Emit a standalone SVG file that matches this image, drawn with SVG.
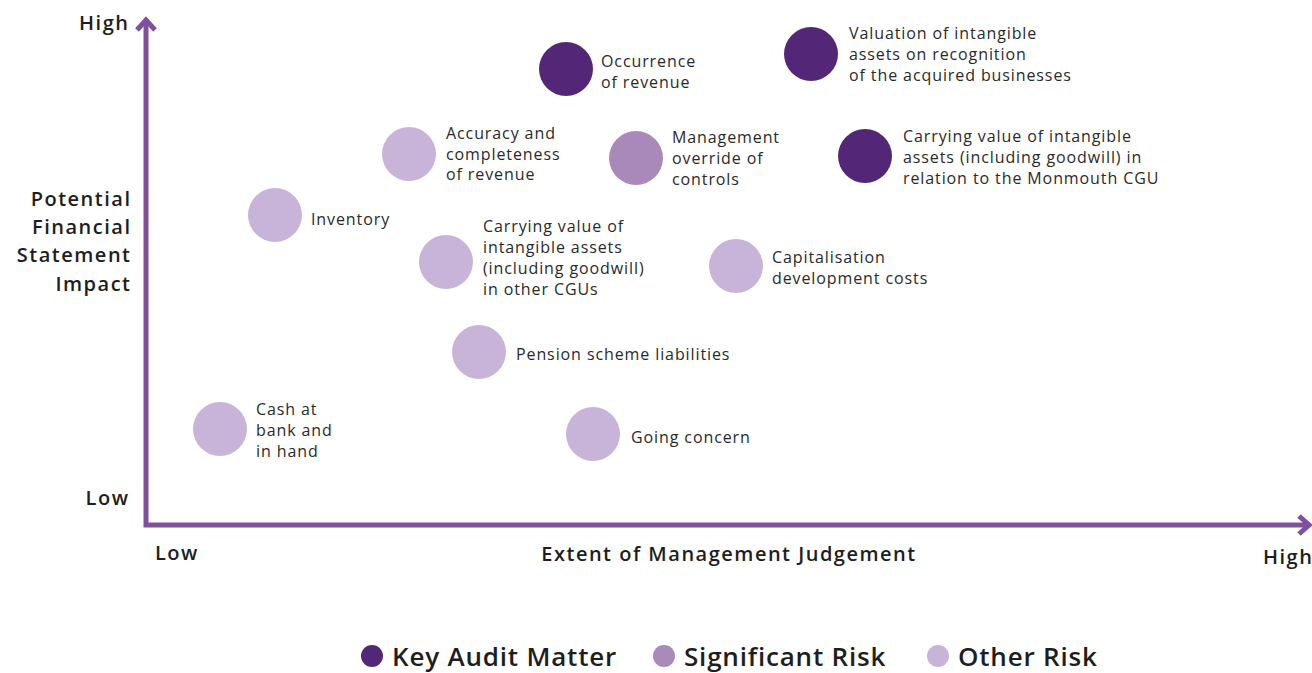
<svg xmlns="http://www.w3.org/2000/svg" width="1312" height="673" viewBox="0 0 1312 673">
<style>
.lbl{font-family:"Open Sans","Liberation Sans",sans-serif;font-size:16px;letter-spacing:0.9px;fill:#2a2a2a}
.ax{font-family:"Open Sans","Liberation Sans",sans-serif;font-size:20px;font-weight:600;letter-spacing:1.5px;fill:#1e1e1e}
.leg{font-family:"Open Sans","Liberation Sans",sans-serif;font-size:26px;font-weight:600;letter-spacing:0.8px;fill:#1e1e1e}
.kam{fill:#532677}
.sig{fill:#a889ba}
.oth{fill:#c7b4d8}
.axis{stroke:#80509d;stroke-width:5;fill:none}
</style>
<rect width="1312" height="673" fill="#ffffff"/>
<g id="axes">
<path class="axis" d="M146,22 V525 H1306"/>
<path class="axis" d="M137,30 L146,20 L155,30"/>
<path class="axis" d="M1299,516 L1309,525 L1299,534"/>
</g>
<g id="axis-labels">
<text class="ax" x="129.5" y="30" text-anchor="end">High</text>
<text class="ax" x="129.5" y="505" text-anchor="end">Low</text>
<text class="ax" text-anchor="end"><tspan x="131.5" y="206">Potential</tspan><tspan x="131.5" y="234">Financial</tspan><tspan x="131.5" y="262">Statement</tspan><tspan x="131.5" y="291">Impact</tspan></text>
<text class="ax" x="155" y="560">Low</text>
<text class="ax" x="729" y="561" text-anchor="middle">Extent of Management Judgement</text>
<text class="ax" x="1263" y="564">High</text>
</g>
<g id="n-occurrence"><circle class="kam" cx="566" cy="69" r="27"/><text class="lbl"><tspan x="601" y="67">Occurrence</tspan><tspan x="601" y="88">of revenue</tspan></text></g>
<g id="n-valuation"><circle class="kam" cx="811" cy="54" r="27"/><text class="lbl"><tspan x="849" y="39">Valuation of intangible</tspan><tspan x="849" y="60">assets on recognition</tspan><tspan x="849" y="81">of the acquired businesses</tspan></text></g>
<g id="n-accuracy"><circle class="oth" cx="409" cy="154" r="27"/><text class="lbl"><tspan x="446" y="139">Accuracy and</tspan><tspan x="446" y="160">completeness</tspan><tspan x="446" y="180">of revenue</tspan></text></g>
<g id="n-management"><circle class="sig" cx="636" cy="158" r="27"/><text class="lbl"><tspan x="672" y="143">Management</tspan><tspan x="672" y="164">override of</tspan><tspan x="672" y="185">controls</tspan></text></g>
<g id="n-monmouth"><circle class="kam" cx="865" cy="156" r="27"/><text class="lbl"><tspan x="903" y="142">Carrying value of intangible</tspan><tspan x="903" y="163">assets (including goodwill) in</tspan><tspan x="903" y="184">relation to the Monmouth CGU</tspan></text></g>
<g id="n-inventory"><circle class="oth" cx="275" cy="215" r="27"/><text class="lbl" x="311" y="225">Inventory</text></g>
<g id="n-othercgus"><circle class="oth" cx="446" cy="262" r="27"/><text class="lbl"><tspan x="483" y="232">Carrying value of</tspan><tspan x="483" y="253">intangible assets</tspan><tspan x="483" y="274">(including goodwill)</tspan><tspan x="483" y="295">in other CGUs</tspan></text></g>
<g id="n-capitalisation"><circle class="oth" cx="736" cy="266" r="27"/><text class="lbl"><tspan x="772" y="263">Capitalisation</tspan><tspan x="772" y="284">development costs</tspan></text></g>
<g id="n-pension"><circle class="oth" cx="479" cy="352" r="27"/><text class="lbl" x="516" y="360">Pension scheme liabilities</text></g>
<g id="n-cash"><circle class="oth" cx="220" cy="429" r="27"/><text class="lbl"><tspan x="256" y="415">Cash at</tspan><tspan x="256" y="436">bank and</tspan><tspan x="256" y="457">in hand</tspan></text></g>
<g id="n-going"><circle class="oth" cx="593" cy="434" r="27"/><text class="lbl" x="631" y="443">Going concern</text></g>
<g id="legend">
<circle class="kam" cx="372" cy="656" r="11"/><text class="leg" x="392" y="666">Key Audit Matter</text>
<circle class="sig" cx="664" cy="656" r="11"/><text class="leg" x="684" y="666">Significant Risk</text>
<circle class="oth" cx="938" cy="656" r="11"/><text class="leg" x="958" y="666">Other Risk</text>
</g>
</svg>
